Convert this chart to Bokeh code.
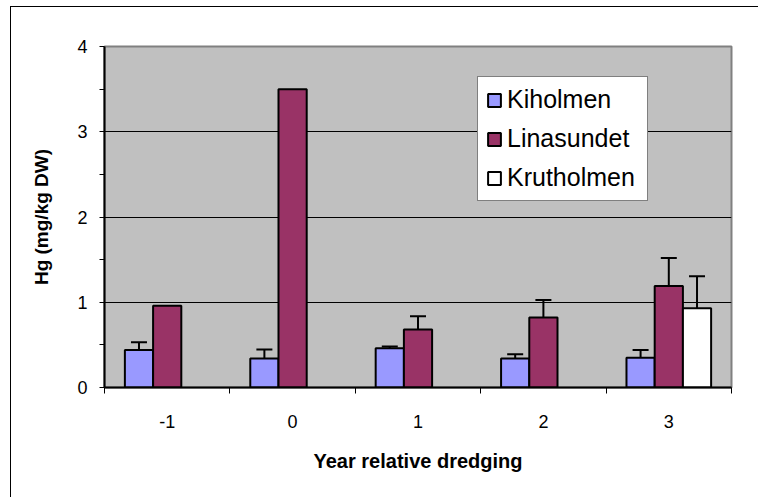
from bokeh.plotting import figure
from bokeh.models import (ColumnDataSource, Range1d, FixedTicker,
                          Whisker, TeeHead, Legend, LegendItem)
from bokeh.transform import dodge
from bokeh.embed import file_html
from bokeh.resources import INLINE

# ---- data ----
years = ["-1", "0", "1", "2", "3"]
series_names = ["Kiholmen", "Linasundet", "Krutholmen"]
kiholmen = [0.44, 0.34, 0.46, 0.34, 0.35]
kiholmen_err = [0.09, 0.105, 0.02, 0.05, 0.09]
linasundet = [0.96, 3.50, 0.68, 0.82, 1.19]
linasundet_err = [None, None, 0.155, 0.205, 0.33]
krutholmen = [None, None, None, None, 0.93]
krutholmen_err = [None, None, None, None, 0.375]
y_ticks = [0, 1, 2, 3, 4]

colors = ["#9999FF", "#993366", "#FFFFFF"]
FONT = "Liberation Sans"

p = figure(width=748, height=491, output_backend="svg", toolbar_location=None,
           x_range=Range1d(0, len(years)), y_range=Range1d(0, 4),
           min_border_left=93, min_border_right=28, min_border_top=39, min_border_bottom=111)
p.styles = {"border-left": "1px solid black", "border-top": "1px solid black",
            "margin-left": "10px", "margin-top": "6px"}

p.background_fill_color = "#C0C0C0"
p.border_fill_color = "white"
p.outline_line_color = "#808080"
p.outline_line_width = 2

bar_w = 0.225
offsets = [-bar_w, 0.0, bar_w]
legend_items = []
for name, vals, errs, col, off in zip(series_names,
                                      [kiholmen, linasundet, krutholmen],
                                      [kiholmen_err, linasundet_err, krutholmen_err],
                                      colors, offsets):
    xs = [i + 0.5 for i, v in enumerate(vals) if v is not None]
    ys = [v for v in vals if v is not None]
    src = ColumnDataSource(dict(x=xs, top=ys))
    r = p.vbar(x=dodge("x", off), top="top", bottom=0, width=bar_w, source=src,
               fill_color=col, line_color="black", line_width=2)
    legend_items.append(LegendItem(label=name, renderers=[r]))
    ex = [i + 0.5 + off for i, (v, e) in enumerate(zip(vals, errs)) if v is not None and e is not None]
    eu = [v + e for v, e in zip(vals, errs) if v is not None and e is not None]
    el = [v - e for v, e in zip(vals, errs) if v is not None and e is not None]
    if ex:
        esrc = ColumnDataSource(dict(base=ex, upper=eu, lower=el))
        w = Whisker(base="base", upper="upper", lower="lower", source=esrc,
                    line_color="black", line_width=2,
                    upper_head=TeeHead(size=16, line_width=2, line_color="black"),
                    lower_head=TeeHead(size=16, line_width=2, line_color="black"))
        p.add_layout(w)

# grid
p.xgrid.visible = False
p.ygrid.grid_line_color = "black"
p.ygrid.grid_line_width = 1
p.ygrid.ticker = FixedTicker(ticks=y_ticks)

# y axis
p.yaxis.ticker = FixedTicker(ticks=y_ticks, minor_ticks=[t + 0.5 for t in y_ticks[:-1]])
p.yaxis.axis_line_color = "black"
p.yaxis.axis_line_width = 2
p.yaxis.major_tick_out = 5
p.yaxis.major_tick_in = 0
p.yaxis.minor_tick_out = 5
p.yaxis.minor_tick_in = 0
p.yaxis.major_tick_line_width = 1
p.yaxis.minor_tick_line_color = "black"
p.yaxis.major_label_standoff = 12
p.yaxis.major_label_text_font = FONT
p.yaxis.major_label_text_font_size = "18px"
p.yaxis.major_label_text_color = "black"
p.yaxis.axis_label = "Hg (mg/kg DW)"
p.yaxis.axis_label_text_font = FONT
p.yaxis.axis_label_text_font_style = "bold"
p.yaxis.axis_label_text_font_size = "19px"
p.yaxis.axis_label_text_color = "black"
p.yaxis.axis_label_standoff = 22

# x axis
centers = [i + 0.5 for i in range(len(years))]
p.xaxis.ticker = FixedTicker(ticks=centers, minor_ticks=list(range(len(years) + 1)))
p.xaxis.major_label_overrides = {c: y for c, y in zip(centers, years)}
p.xaxis.axis_line_color = "black"
p.xaxis.axis_line_width = 2
p.xaxis.major_tick_out = 0
p.xaxis.major_tick_in = 0
p.xaxis.minor_tick_out = 6
p.xaxis.minor_tick_in = 0
p.xaxis.minor_tick_line_color = "black"
p.xaxis.major_label_standoff = 21
p.xaxis.major_label_text_font = FONT
p.xaxis.major_label_text_font_size = "18px"
p.xaxis.major_label_text_color = "black"
p.xaxis.axis_label = "Year relative dredging"
p.xaxis.axis_label_text_font = FONT
p.xaxis.axis_label_text_font_style = "bold"
p.xaxis.axis_label_text_font_size = "20px"
p.xaxis.axis_label_text_color = "black"
p.xaxis.axis_label_standoff = 19

legend = Legend(items=legend_items, location=(373, 186))
legend.background_fill_color = "white"
legend.background_fill_alpha = 1.0
legend.border_line_color = "black"
legend.border_line_width = 1
legend.label_text_font = FONT
legend.label_text_font_size = "25px"
legend.label_text_color = "black"
legend.glyph_width = 16
legend.glyph_height = 16
legend.label_height = 28
legend.label_width = 132
legend.spacing = 10
legend.padding = 8
legend.margin = 0
legend.label_standoff = 5
p.add_layout(legend, "center")

open("out.html", "w").write(file_html(p, INLINE))
